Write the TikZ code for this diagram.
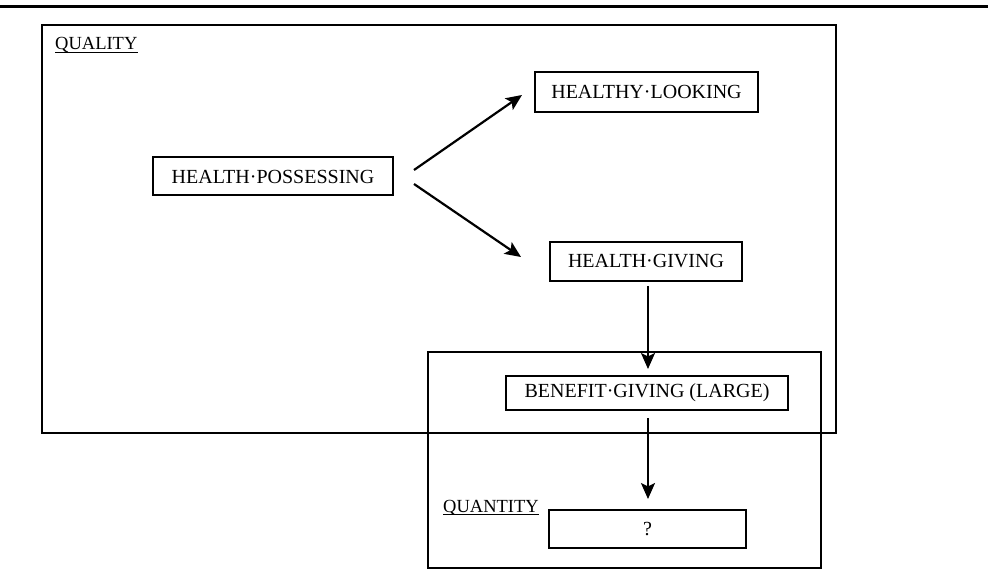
\documentclass[tikz,border=0pt]{standalone}
\usepackage{fontspec}
\setmainfont{Liberation Serif}
\usetikzlibrary{arrows.meta,calc}
\tikzset{
  boxnode/.style={draw, line width=2pt, rectangle, inner sep=0pt, align=center,
    font=\fontsize{20}{22}\selectfont},
  frame/.style={draw, line width=2.2pt},
  arr/.style={line width=2.2pt, -{Stealth[length=16pt,width=14pt,inset=3.5pt]}},
  lbl/.style={inner sep=0pt, anchor=base west, font=\fontsize{18.5}{20}\selectfont},
  uline/.style={line width=1.5pt}
}
\begin{document}
\begin{tikzpicture}[x=1pt,y=-1pt]
\useasboundingbox (0,0) rectangle (988,577);
% top rule
\coordinate (tl) at (0,6.5);
\coordinate (tr) at (988,6.5);
\draw[line width=2.2pt] (tl) -- (tr);
% frames
\draw[frame] (42,25) rectangle (836,433);
\draw[frame] (428,352) rectangle (821,568);
% labels
\node[lbl] (qual) at (55,50) {QUALITY};
\draw[uline] ([yshift=-2.5pt]qual.base west) -- ([yshift=-2.5pt]qual.base east);
\node[lbl] (quant) at (443,512) {QUANTITY};
\draw[uline] ([yshift=-2.5pt]quant.base west) -- ([yshift=-2.5pt]quant.base east);
% nodes
\node[boxnode, minimum width=240pt, minimum height=38pt] (HP) at (273,176.5) {HEALTH·POSSESSING};
\node[boxnode, minimum width=223pt, minimum height=40pt] (HL) at (646.5,92) {HEALTHY·LOOKING};
\node[boxnode, minimum width=192pt, minimum height=39pt] (HG) at (646,261.5) {HEALTH·GIVING};
\node[boxnode, minimum width=282pt, minimum height=34pt] (BG) at (647,393) {BENEFIT·GIVING (LARGE)};
\node[boxnode, minimum width=197pt, minimum height=38pt] (QB) at (647.5,529) {?};
% connectors
\draw[arr] ($(HP.east)+(20,-6.5)$) -- ($(HL.west)+(-12,3)$);
\draw[arr] ($(HP.east)+(20,7.5)$) -- ($(HG.west)+(-28,-4.5)$);
\draw[arr, shorten <=4pt, shorten >=6pt] ($(HG.south)+(2,0)$) -- ($(HG.south |- BG.north)+(2,0)$);
\draw[arr, shorten <=7pt, shorten >=10pt] ($(BG.south)+(1,0)$) -- ($(BG.south |- QB.north)+(1,0)$);
\end{tikzpicture}
\end{document}
